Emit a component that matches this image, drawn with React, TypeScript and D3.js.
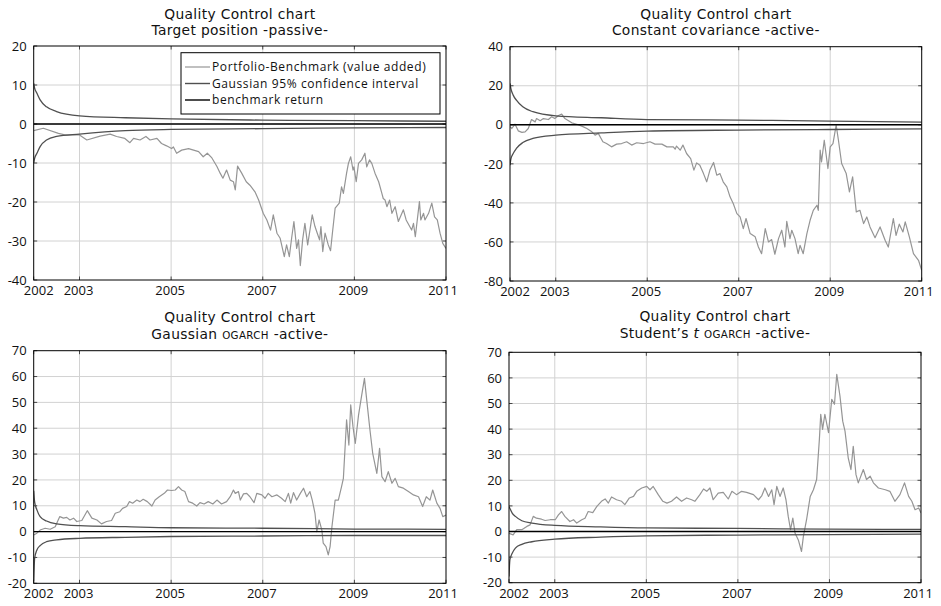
import React from 'react';
import * as d3 from 'd3';

const W = 941;
const H = 606;
const FONT = "'Open Sans', 'Noto Sans', sans-serif";
const TITLE_FONT = "'DejaVu Sans', 'Open Sans', sans-serif";

// ---------- data ----------
const xTickYears = [2002, 2003, 2005, 2007, 2009, 2011];
const xGridYears = [2003, 2005, 2007, 2009];

const ciYears = [2002.0, 2002.02, 2002.07, 2002.14, 2002.28, 2002.5, 2003, 2004, 2005, 2007, 2009, 2011];
const benchYears = [2002, 2011];
const benchValues = [0, 0];

// Panel 1: Target position -passive-
const p1Upper = [10.4, 9.2, 7.9, 6.2, 4.4, 3.2, 2.1, 1.6, 1.3, 1.0, 0.85, 0.7];
const p1Lower = [-10, -8.8, -7.5, -5.8, -4.1, -3.2, -2.6, -1.7, -1.4, -1.2, -1.0, -0.9];
const p1Dates = [
  2002.0, 2002.21, 2002.54, 2002.68, 2003.0, 2003.16, 2003.45, 2003.67, 2003.81, 2003.99,
  2004.1, 2004.18, 2004.32, 2004.45, 2004.54, 2004.69, 2004.79, 2004.9, 2005.01, 2005.05,
  2005.12, 2005.23, 2005.38, 2005.49, 2005.6, 2005.7, 2005.79, 2005.89, 2006.0, 2006.07,
  2006.13, 2006.21, 2006.29, 2006.36, 2006.4, 2006.45, 2006.54, 2006.64, 2006.72, 2006.83,
  2006.91, 2007.01, 2007.09, 2007.17, 2007.23, 2007.31, 2007.38, 2007.47, 2007.52, 2007.58,
  2007.63, 2007.68, 2007.74, 2007.78, 2007.82, 2007.87, 2007.92, 2007.98, 2008.03, 2008.08,
  2008.14, 2008.19, 2008.24, 2008.27, 2008.31, 2008.36, 2008.43, 2008.48, 2008.52, 2008.58,
  2008.67, 2008.72, 2008.76, 2008.83, 2008.87, 2008.92, 2008.97, 2008.99, 2009.04, 2009.09,
  2009.16, 2009.23, 2009.27, 2009.33, 2009.38, 2009.45, 2009.53, 2009.6, 2009.63, 2009.67,
  2009.71, 2009.77, 2009.82, 2009.89, 2009.96, 2010.07, 2010.13, 2010.25, 2010.29, 2010.33,
  2010.42, 2010.45, 2010.51, 2010.54, 2010.62, 2010.69, 2010.75, 2010.81, 2010.87, 2010.93,
  2011.0,
];
const p1Values = [
  -1.7, -1.1, -2.4, -2.8, -2.8, -4.1, -3.1, -2.6, -3.2, -3.7,
  -4.8, -3.7, -4.1, -3.2, -4.1, -3.7, -5.0, -5.6, -6.3, -5.9,
  -7.5, -6.7, -6.3, -6.7, -7.1, -8.4, -7.5, -8.7, -10.9, -12.6,
  -13.9, -11.8, -14.4, -14.8, -16.9, -10.8, -12.6, -14.8, -15.7, -17.4,
  -19.5, -22.9, -24.6, -27.2, -23.3, -28.0, -29.3, -34.0, -31.0, -34.0,
  -29.3, -25.0, -31.9, -29.7, -36.3, -29.7, -25.5, -31.0, -27.2, -23.3,
  -26.3, -28.0, -29.7, -26.3, -32.7, -28.0, -31.0, -32.5, -28.0, -21.6,
  -20.3, -16.1, -17.8, -12.6, -10.1, -8.4, -11.8, -11.0, -14.8, -10.1,
  -9.2, -7.5, -11.0, -9.2, -10.1, -12.6, -14.8, -17.8, -19.1, -19.5,
  -21.2, -19.5, -22.9, -21.2, -25.0, -22.0, -24.6, -27.2, -25.5, -28.9,
  -19.9, -24.6, -22.9, -24.6, -22.9, -20.3, -23.8, -24.6, -28.0, -30.6,
  -31.9,
];

// Panel 2: Constant covariance -active-
const p2Upper = [21.2, 18.5, 15.2, 12.6, 9.2, 6.7, 4.6, 3.6, 2.7, 2.4, 1.9, 1.4];
const p2Lower = [-20.7, -17.5, -14.7, -12.1, -9.1, -7.0, -5.3, -4.1, -3.2, -2.7, -2.4, -2.1];
const p2Dates = [
  2002.0, 2002.04, 2002.11, 2002.18, 2002.26, 2002.33, 2002.4, 2002.47, 2002.55, 2002.58,
  2002.66, 2002.73, 2002.84, 2002.91, 2002.98, 2003.06, 2003.13, 2003.2, 2003.28, 2003.35,
  2003.46, 2003.57, 2003.68, 2003.79, 2003.86, 2003.93, 2004.03, 2004.11, 2004.22, 2004.33,
  2004.44, 2004.55, 2004.66, 2004.77, 2004.92, 2005.06, 2005.17, 2005.32, 2005.43, 2005.57,
  2005.61, 2005.64, 2005.72, 2005.78, 2005.86, 2005.95, 2006.02, 2006.08, 2006.15, 2006.23,
  2006.3, 2006.37, 2006.45, 2006.52, 2006.59, 2006.66, 2006.74, 2006.81, 2006.88, 2006.96,
  2007.03, 2007.1, 2007.16, 2007.25, 2007.36, 2007.43, 2007.5, 2007.58, 2007.65, 2007.72,
  2007.79, 2007.87, 2007.94, 2008.01, 2008.05, 2008.12, 2008.16, 2008.23, 2008.3, 2008.34,
  2008.41, 2008.49, 2008.56, 2008.63, 2008.71, 2008.74, 2008.78, 2008.81, 2008.87, 2008.95,
  2009.0, 2009.06, 2009.13, 2009.18, 2009.25, 2009.35, 2009.42, 2009.49, 2009.57, 2009.65,
  2009.73, 2009.8, 2009.87, 2009.98, 2010.09, 2010.2, 2010.27, 2010.38, 2010.44, 2010.51,
  2010.59, 2010.64, 2010.73, 2010.82, 2010.93, 2011.0,
];
const p2Values = [
  -1.0, -1.9, 0.3, -3.1, -3.9, -3.6, -1.9, 2.7, 1.5, 3.2,
  2.1, 3.2, 2.7, 4.1, 3.2, 4.8, 5.5, 3.2, 2.1, 1.0,
  0.3, -0.7, -1.9, -3.6, -5.3, -4.4, -8.7, -9.6, -11.3, -9.9,
  -9.6, -8.7, -10.4, -9.2, -9.6, -8.7, -9.9, -9.9, -11.3, -11.3,
  -12.5, -10.9, -13.0, -10.4, -14.7, -17.3, -23.2, -19.5, -20.7, -25.0,
  -29.2, -23.2, -19.3, -25.8, -25.0, -29.2, -31.8, -36.9, -40.3, -45.5,
  -47.2, -53.2, -48.0, -55.7, -57.4, -62.6, -66.0, -53.2, -60.0, -58.8,
  -66.3, -58.3, -54.0, -62.6, -49.4, -58.3, -54.0, -58.3, -66.0, -61.7,
  -66.0, -55.7, -48.9, -43.8, -41.2, -43.8, -13.0, -19.0, -7.9, -22.4,
  -11.3, -9.6, -0.2, -7.9, -19.8, -25.0, -34.4, -26.7, -44.6, -43.8,
  -50.6, -47.2, -52.3, -57.8, -52.3, -59.1, -62.6, -48.0, -56.6, -50.9,
  -54.9, -49.7, -57.4, -66.0, -69.4, -74.5,
];

// Panel 3: Gaussian OGARCH -active-
const p3Upper = [15.8, 11.5, 8.4, 5.8, 4.1, 3.0, 2.3, 1.9, 1.5, 1.3, 1.0, 0.9];
const p3Lower = [-19.0, -10.5, -7.1, -5.4, -3.9, -3.2, -2.6, -2.2, -1.9, -1.7, -1.5, -1.5];
const p3Dates = [
  2002.0, 2002.07, 2002.14, 2002.25, 2002.36, 2002.47, 2002.52, 2002.57, 2002.65, 2002.72,
  2002.79, 2002.87, 2002.94, 2003.05, 2003.17, 2003.27, 2003.38, 2003.48, 2003.59, 2003.7,
  2003.78, 2003.88, 2003.94, 2004.03, 2004.09, 2004.16, 2004.25, 2004.32, 2004.39, 2004.48,
  2004.58, 2004.65, 2004.74, 2004.85, 2004.92, 2005.01, 2005.09, 2005.16, 2005.23, 2005.3,
  2005.38, 2005.47, 2005.56, 2005.63, 2005.72, 2005.81, 2005.91, 2006.0, 2006.1, 2006.21,
  2006.29, 2006.36, 2006.4, 2006.47, 2006.51, 2006.58, 2006.65, 2006.72, 2006.81, 2006.87,
  2006.98, 2007.05, 2007.12, 2007.2, 2007.31, 2007.41, 2007.49, 2007.56, 2007.61, 2007.67,
  2007.74, 2007.82, 2007.89, 2007.96, 2008.03, 2008.08, 2008.14, 2008.18, 2008.23, 2008.29,
  2008.32, 2008.38, 2008.43, 2008.47, 2008.51, 2008.58, 2008.65, 2008.72, 2008.76, 2008.83,
  2008.88, 2008.92, 2008.97, 2009.02, 2009.09, 2009.16, 2009.22, 2009.27, 2009.34, 2009.4,
  2009.49, 2009.55, 2009.6, 2009.67, 2009.74, 2009.82, 2009.89, 2009.96, 2010.07, 2010.18,
  2010.29, 2010.4, 2010.49, 2010.57, 2010.65, 2010.71, 2010.8, 2010.87, 2010.93, 2011.0,
];
const p3Values = [
  -1.3, -0.6, 0.6, 1.3, 0.9, 1.9, 3.9, 5.8, 5.2, 5.5,
  4.5, 5.2, 3.9, 4.3, 8.1, 5.2, 4.5, 3.0, 3.9, 4.3,
  7.1, 7.7, 9.0, 9.7, 11.6, 11.0, 12.2, 11.6, 12.5, 11.6,
  9.9, 12.2, 13.5, 14.8, 16.1, 15.9, 16.1, 17.4, 16.1, 15.5,
  11.6, 11.0, 9.9, 11.2, 10.7, 11.6, 10.7, 12.2, 10.7, 11.6,
  13.5, 16.1, 14.8, 15.5, 12.2, 14.6, 14.8, 13.5, 11.2, 14.8,
  14.2, 12.9, 14.8, 13.5, 14.2, 12.9, 11.6, 14.8, 11.0, 15.1,
  12.2, 14.8, 16.8, 13.5, 15.5, 12.2, 7.1, 0.0, 4.5, 0.6,
  -4.5, -5.8, -9.0, -5.8, 1.9, 12.2, 12.2, 17.4, 20.6, 43.2,
  33.5, 49.0, 40.6, 34.1, 45.0, 52.8, 59.3, 50.9, 39.3, 30.3,
  22.5, 32.2, 21.3, 19.3, 23.2, 18.7, 20.6, 17.4, 16.8, 15.5,
  14.2, 13.5, 9.7, 13.5, 12.2, 16.1, 11.0, 9.0, 5.8, 6.4,
];

// Panel 4: Student's t OGARCH -active-
const p4Upper = [9.8, 9.0, 7.2, 5.9, 4.2, 3.3, 2.4, 1.8, 1.4, 1.2, 0.9, 0.8];
const p4Lower = [-17.6, -11.0, -8.5, -6.5, -5.0, -4.0, -3.0, -2.2, -1.7, -1.4, -1.2, -1.0];
const p4Dates = [
  2002.0, 2002.09, 2002.17, 2002.28, 2002.39, 2002.46, 2002.53, 2002.6, 2002.71, 2002.79,
  2002.9, 2003.01, 2003.08, 2003.15, 2003.22, 2003.33, 2003.41, 2003.48, 2003.59, 2003.66,
  2003.73, 2003.83, 2003.92, 2004.02, 2004.1, 2004.17, 2004.24, 2004.35, 2004.46, 2004.53,
  2004.63, 2004.72, 2004.79, 2004.9, 2005.01, 2005.08, 2005.15, 2005.26, 2005.36, 2005.45,
  2005.55, 2005.66, 2005.77, 2005.88, 2005.99, 2006.06, 2006.17, 2006.25, 2006.32, 2006.39,
  2006.46, 2006.57, 2006.68, 2006.79, 2006.87, 2006.97, 2007.08, 2007.19, 2007.34, 2007.45,
  2007.52, 2007.59, 2007.67, 2007.74, 2007.79, 2007.85, 2007.92, 2007.99, 2008.05, 2008.1,
  2008.15, 2008.2, 2008.25, 2008.32, 2008.39, 2008.43, 2008.5, 2008.58, 2008.65, 2008.72,
  2008.78, 2008.81, 2008.85, 2008.9, 2008.98, 2009.05, 2009.11, 2009.16, 2009.23, 2009.29,
  2009.34, 2009.41, 2009.47, 2009.52, 2009.58, 2009.63, 2009.74, 2009.81, 2009.89, 2009.96,
  2010.07, 2010.22, 2010.32, 2010.43, 2010.54, 2010.64, 2010.73, 2010.8, 2010.87, 2010.95,
  2011.0,
];
const p4Values = [
  -0.7, -1.3, 0.7, 0.7, 2.0, 2.6, 5.9, 5.2, 4.8, 4.3,
  4.6, 4.6, 6.5, 7.8, 5.9, 3.9, 4.6, 3.3, 4.6, 5.2,
  7.8, 7.4, 9.8, 11.8, 12.7, 11.1, 13.5, 12.4, 11.8, 10.5,
  13.1, 13.7, 15.7, 17.0, 17.6, 16.3, 17.6, 14.4, 11.8, 11.1,
  11.8, 13.5, 11.8, 13.1, 12.4, 11.8, 14.4, 16.6, 15.7, 17.0,
  12.4, 15.0, 15.3, 12.7, 15.7, 14.4, 15.7, 15.3, 14.4, 12.4,
  13.9, 17.0, 13.7, 16.3, 10.5, 17.6, 13.7, 17.0, 12.4, 5.9,
  0.7, 5.2, -0.7, -3.3, -7.8, -2.0, 4.6, 13.7, 16.3, 20.3,
  36.0, 45.8, 39.9, 45.8, 38.6, 51.6, 49.7, 61.4, 52.9, 43.1,
  39.2, 28.8, 24.2, 33.3, 22.2, 19.0, 24.2, 20.3, 21.6, 19.0,
  17.0, 16.3, 15.7, 11.8, 14.4, 19.0, 13.7, 11.8, 8.5, 9.2,
  7.2,
];

const p1Ticks = [-40, -30, -20, -10, 0, 10, 20];
const p2Ticks = [-80, -60, -40, -20, 0, 20, 40];
const p3Ticks = [-20, -10, 0, 10, 20, 30, 40, 50, 60, 70];
const p4Ticks = [-20, -10, 0, 10, 20, 30, 40, 50, 60, 70];

const titleLine1 = 'Quality Control chart';
const legendLabels = ['Portfolio-Benchmark (value added)', 'Gaussian 95% confidence interval', 'benchmark return'];

// ---------- styles ----------
const C_SERIES = '#959595';
const C_CI = '#505050';
const C_BENCH = '#000000';
const C_GRID = '#d2d2d2';
const C_TEXT = '#111111';
const TITLE_SIZE = 13.8;
const TITLE_LS = 0.35;

type PanelDef = {
  id: string;
  x0: number; x1: number; y0: number; y1: number;
  ticks: number[];
  titleY: [number, number];
  title2: React.ReactNode;
  dates: number[]; values: number[];
  upper: number[]; lower: number[];
  legend?: boolean;
};

const panels: PanelDef[] = [
  {
    id: 'p1', x0: 33.7, x1: 446, y0: 46, y1: 280, ticks: p1Ticks, titleY: [18.8, 35.3],
    title2: 'Target position -passive-',
    dates: p1Dates, values: p1Values, upper: p1Upper, lower: p1Lower, legend: true,
  },
  {
    id: 'p2', x0: 510, x1: 921.7, y0: 46.7, y1: 281, ticks: p2Ticks, titleY: [18.8, 35.3],
    title2: 'Constant covariance -active-',
    dates: p2Dates, values: p2Values, upper: p2Upper, lower: p2Lower,
  },
  {
    id: 'p3', x0: 33.7, x1: 446, y0: 350.7, y1: 583.3, ticks: p3Ticks, titleY: [321.5, 338.5],
    title2: (
      <>
        Gaussian <tspan fontSize={10.3}>OGARCH</tspan> -active-
      </>
    ),
    dates: p3Dates, values: p3Values, upper: p3Upper, lower: p3Lower,
  },
  {
    id: 'p4', x0: 509, x1: 921, y0: 352.3, y1: 582.7, ticks: p4Ticks, titleY: [321.3, 337.8],
    title2: (
      <>
        Student’s <tspan fontStyle="italic">t</tspan> <tspan fontSize={10.3}>OGARCH</tspan> -active-
      </>
    ),
    dates: p4Dates, values: p4Values, upper: p4Upper, lower: p4Lower,
  },
];

function Panel({ p }: { p: PanelDef }) {
  const x = d3.scaleLinear().domain([2002, 2011]).range([p.x0, p.x1]);
  const y = d3
    .scaleLinear()
    .domain([p.ticks[0], p.ticks[p.ticks.length - 1]])
    .range([p.y1, p.y0]);

  const line = d3
    .line<[number, number]>()
    .x((d) => x(d[0]))
    .y((d) => y(d[1]));
  const smooth = d3
    .line<[number, number]>()
    .x((d) => x(d[0]))
    .y((d) => y(d[1]))
    .curve(d3.curveMonotoneX);

  const series = p.dates.map((d, i) => [d, p.values[i]] as [number, number]);
  const up = ciYears.map((d, i) => [d, p.upper[i]] as [number, number]);
  const lo = ciYears.map((d, i) => [d, p.lower[i]] as [number, number]);
  const bench = benchYears.map((d, i) => [d, benchValues[i]] as [number, number]);

  const cx = (p.x0 + p.x1) / 2;
  const tickLen = 3.5;
  const xLabelOffset = (yr: number) => (yr === 2002 ? 5 : yr === 2011 ? -3 : -1);

  return (
    <g>
      <defs>
        <clipPath id={`clip-${p.id}`}>
          <rect x={p.x0} y={p.y0} width={p.x1 - p.x0} height={p.y1 - p.y0} />
        </clipPath>
      </defs>
      {/* titles */}
      <text x={cx} y={p.titleY[0]} textAnchor="middle" fontSize={TITLE_SIZE} letterSpacing={TITLE_LS} fontFamily={TITLE_FONT} fill={C_TEXT}>
        {titleLine1}
      </text>
      <text x={cx} y={p.titleY[1]} textAnchor="middle" fontSize={TITLE_SIZE} letterSpacing={TITLE_LS} fontFamily={TITLE_FONT} fill={C_TEXT}>
        {p.title2}
      </text>
      {/* grid */}
      {p.ticks.slice(1, -1).map((t) => (
        <line key={`hy${t}`} x1={p.x0} x2={p.x1} y1={y(t)} y2={y(t)} stroke={C_GRID} strokeWidth={1} />
      ))}
      {xGridYears.map((t) => (
        <line key={`vx${t}`} x1={x(t)} x2={x(t)} y1={p.y0} y2={p.y1} stroke={C_GRID} strokeWidth={1} />
      ))}
      {/* inward ticks */}
      {p.ticks.map((t) => (
        <g key={`ty${t}`}>
          <line x1={p.x0} x2={p.x0 + tickLen} y1={y(t)} y2={y(t)} stroke="#222" strokeWidth={0.8} />
          <line x1={p.x1} x2={p.x1 - tickLen} y1={y(t)} y2={y(t)} stroke="#222" strokeWidth={0.8} />
        </g>
      ))}
      {xTickYears.map((t) => (
        <g key={`tx${t}`}>
          <line x1={x(t)} x2={x(t)} y1={p.y1} y2={p.y1 - tickLen} stroke="#222" strokeWidth={0.8} />
          <line x1={x(t)} x2={x(t)} y1={p.y0} y2={p.y0 + tickLen} stroke="#222" strokeWidth={0.8} />
        </g>
      ))}
      {/* data */}
      <g clipPath={`url(#clip-${p.id})`}>
        <path d={line(series) || ''} fill="none" stroke={C_SERIES} strokeWidth={1.2} strokeLinejoin="round" />
        <path d={smooth(up) || ''} fill="none" stroke={C_CI} strokeWidth={1.3} />
        <path d={smooth(lo) || ''} fill="none" stroke={C_CI} strokeWidth={1.3} />
        <path d={line(bench) || ''} fill="none" stroke={C_BENCH} strokeWidth={1.4} />
      </g>
      {/* frame */}
      <rect x={p.x0} y={p.y0} width={p.x1 - p.x0} height={p.y1 - p.y0} fill="none" stroke="#000" strokeWidth={1} />
      {/* y labels */}
      {p.ticks.map((t) => (
        <text key={`ly${t}`} x={p.x0 - 7} y={y(t)} dy="0.36em" textAnchor="end" fontSize={13} fontFamily={FONT} fill={C_TEXT}>
          {t}
        </text>
      ))}
      {/* x labels */}
      {xTickYears.map((t) => (
        <text key={`lx${t}`} x={x(t) + xLabelOffset(t)} y={p.y1 + 15} textAnchor="middle" fontSize={13} fontFamily={FONT} fill={C_TEXT}>
          {t}
        </text>
      ))}
      {p.legend && (
        <g>
          <rect x={181} y={52.7} width={259} height={61.3} fill="#fff" stroke="#000" strokeWidth={1} />
          {legendLabels.map((lab, i) => {
            const ly = [67, 83.5, 100][i];
            const col = [C_SERIES, C_CI, C_BENCH][i];
            return (
              <g key={lab}>
                <line x1={185} x2={210} y1={ly} y2={ly} stroke={col} strokeWidth={i === 0 ? 1.2 : 1.4} />
                <text x={212} y={ly} dy="0.36em" fontSize={12} letterSpacing={0.6} fontFamily={FONT} fill={C_TEXT}>
                  {lab}
                </text>
              </g>
            );
          })}
        </g>
      )}
    </g>
  );
}

export default function App() {
  return (
    <svg
      width={W}
      height={H}
      viewBox={`0 0 ${W} ${H}`}
      style={{ position: 'absolute', left: 0, top: 0, background: '#fff' }}
    >
      <rect x={0} y={0} width={W} height={H} fill="#fff" />
      {panels.map((p) => (
        <Panel key={p.id} p={p} />
      ))}
    </svg>
  );
}
